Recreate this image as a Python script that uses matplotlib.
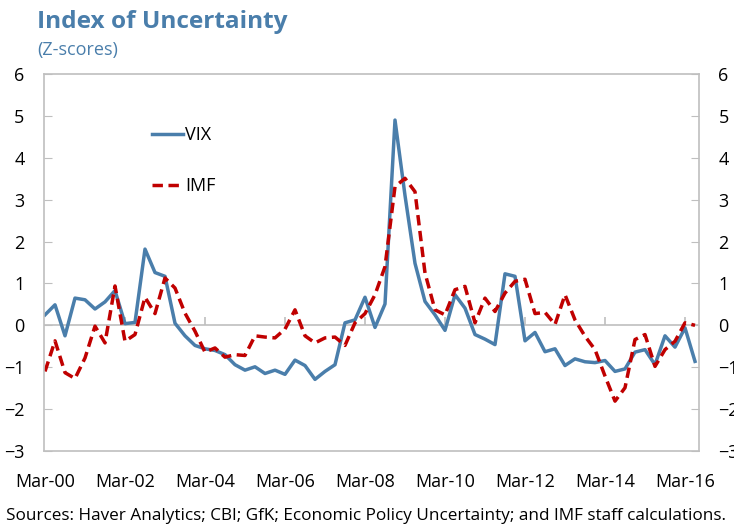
import matplotlib.pyplot as plt

plt.rcParams['font.family'] = ['Open Sans', 'DejaVu Sans']

# quarterly z-scores, Mar-00 .. Jun-16
vix = [0.25, 0.49, -0.25, 0.65, 0.61, 0.39, 0.56, 0.83, 0.04, 0.07,
       1.82, 1.26, 1.17, 0.05, -0.25, -0.48, -0.56, -0.60, -0.70, -0.94,
       -1.07, -0.99, -1.15, -1.07, -1.17, -0.83, -0.96, -1.29, -1.10, -0.94,
       0.06, 0.13, 0.67, -0.05, 0.51, 4.90, 3.10, 1.48, 0.57, 0.25,
       -0.12, 0.73, 0.41, -0.22, -0.33, -0.46, 1.23, 1.17, -0.37, -0.17,
       -0.63, -0.56, -0.96, -0.80, -0.87, -0.89, -0.84, -1.10, -1.04, -0.64,
       -0.58, -0.94, -0.25, -0.52, -0.06, -0.86]
imf = [-1.10, -0.37, -1.13, -1.27, -0.78, -0.02, -0.42, 0.94, -0.38, -0.22,
       0.67, 0.28, 1.13, 0.89, 0.29, -0.14, -0.64, -0.54, -0.76, -0.70,
       -0.72, -0.25, -0.28, -0.30, -0.09, 0.37, -0.25, -0.42, -0.30, -0.28,
       -0.48, 0.06, 0.28, 0.73, 1.40, 3.31, 3.51, 3.19, 1.25, 0.37,
       0.25, 0.85, 0.93, 0.06, 0.65, 0.33, 0.77, 1.05, 1.10, 0.28,
       0.31, 0.02, 0.73, 0.13, -0.26, -0.58, -1.21, -1.81, -1.49, -0.34,
       -0.22, -0.98, -0.58, -0.38, 0.06, 0.00]
tick_labels = ['Mar-00', 'Mar-02', 'Mar-04', 'Mar-06', 'Mar-08',
               'Mar-10', 'Mar-12', 'Mar-14', 'Mar-16']

blue = '#4A7EAB'
red = '#C00000'
grey = '#BFBFBF'

fig = plt.figure(figsize=(7.34, 5.26), dpi=100)
ax = fig.add_axes([44/734, 1 - 451/526, 655/734, 377/526])

x = list(range(len(vix)))
ax.plot(x, vix, color=blue, lw=2.5, label='VIX')
ax.plot(x, imf, color=red, lw=2.5, ls=(0, (3, 1.6)), label='IMF')

ax.set_xlim(-0.1, 65.4)
ax.set_ylim(-3, 6)

# zero line with small category ticks
ax.axhline(0, color=grey, lw=1.2, zorder=0)
xt = list(range(0, 65, 8))
ax.vlines(xt[1:], 0, 0.2, color=grey, lw=1.2, zorder=0)

ax.set_xticks(xt)
ax.set_xticklabels(tick_labels)
ax.tick_params(axis='x', length=0, pad=16, labelsize=13)
ax.set_yticks(range(-3, 7))
ax.tick_params(axis='y', direction='in', length=6, color=grey,
               labelsize=13, pad=14, left=True, right=True,
               labelleft=True, labelright=True)
for s in ax.spines.values():
    s.set_color(grey)
    s.set_linewidth(1.2)

ax.legend(loc='upper left', bbox_to_anchor=(0.14, 0.905), frameon=False,
          fontsize=13, handlelength=1.7, handletextpad=0.15,
          labelspacing=1.85)

fig.text(37/734, 1 - 22/526, 'Index of Uncertainty', color=blue,
         fontsize=17.6, fontweight='bold', va='center')
fig.text(37/734, 1 - 50/526, '(Z-scores)', color=blue, fontsize=13,
         va='center')
fig.text(6/734, 1 - 516/526,
         'Sources: Haver Analytics; CBI; GfK; Economic Policy Uncertainty; '
         'and IMF staff calculations.', fontsize=12.3, va='center')

fig.savefig('out.png', dpi=100)
